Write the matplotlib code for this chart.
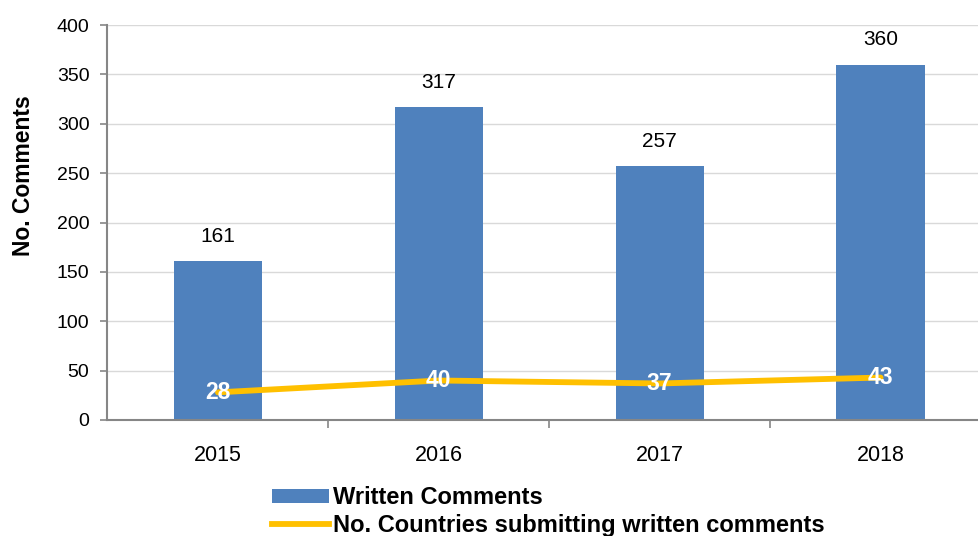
import matplotlib
matplotlib.use("Agg")
import matplotlib.pyplot as plt
from matplotlib.lines import Line2D
from matplotlib.patches import Patch

years = ["2015", "2016", "2017", "2018"]
written_comments = [161, 317, 257, 360]
countries = [28, 40, 37, 43]
yticks = [0, 50, 100, 150, 200, 250, 300, 350, 400]

bar_color = "#4F81BD"
line_color = "#FFC000"

plt.rcParams['font.family'] = ['Liberation Sans', 'DejaVu Sans']

fig = plt.figure(figsize=(9.79, 5.36), dpi=100)
ax = fig.add_axes([107.5 / 979, 1 - 420 / 536, (991 - 107.5) / 979, (420 - 25) / 536])

x = list(range(len(years)))
ax.bar(x, written_comments, width=0.4, color=bar_color, zorder=2)
ax.plot(x, countries, color=line_color, linewidth=4.2, zorder=3, solid_capstyle='round')

for xi, v in zip(x, written_comments):
    ax.annotate(str(v), (xi, v), xytext=(0, 11), textcoords='offset points',
                ha='center', va='bottom', fontsize=15, color='black')
for xi, v in zip(x, countries):
    ax.text(xi, v, str(v), ha='center', va='center', fontsize=16.5, fontweight='bold',
            color='white', zorder=4, family=['Liberation Sans Narrow', 'Liberation Sans'])

ax.set_xlim(-0.5, len(years) - 0.5)
ax.set_ylim(0, 400)
ax.set_yticks(yticks)
ax.set_yticklabels([str(t) for t in yticks], fontsize=14)
ax.set_xticks(x)
ax.set_xticklabels(years, fontsize=15.5)
ax.tick_params(axis='x', length=0, pad=18)
ax.set_xticks([i + 0.5 for i in range(len(years) - 1)], minor=True)
ax.tick_params(axis='x', which='minor', length=6, color='#868686', width=1.2)
ax.tick_params(axis='y', length=5, color='#868686', width=1.2, pad=8)

ax.yaxis.grid(True, color='#D9D9D9', linewidth=1, zorder=0)
ax.set_axisbelow(True)
for s in ['top', 'right']:
    ax.spines[s].set_visible(False)
for s in ['left', 'bottom']:
    ax.spines[s].set_color('#868686')
    ax.spines[s].set_linewidth(1.5)

ax.set_ylabel("No. Comments", fontsize=16.5, fontweight='bold')
ax.yaxis.set_label_coords((35 - 107.5) / 883.5, (420 - 176) / 395)

handles = [Patch(facecolor=bar_color, edgecolor='none'),
           Line2D([0], [0], color=line_color, linewidth=4.2)]
labels = ["Written Comments", "No. Countries submitting written comments"]
fig.legend(handles, labels, loc='upper left', bbox_to_anchor=(272 / 979, 1 - 486 / 536),
           frameon=False, prop={'weight': 'bold', 'size': 17},
           handlelength=2.4, handleheight=0.55, handletextpad=0.2, labelspacing=0.2,
           borderpad=0, borderaxespad=0)

fig.savefig("out.png", dpi=100)
